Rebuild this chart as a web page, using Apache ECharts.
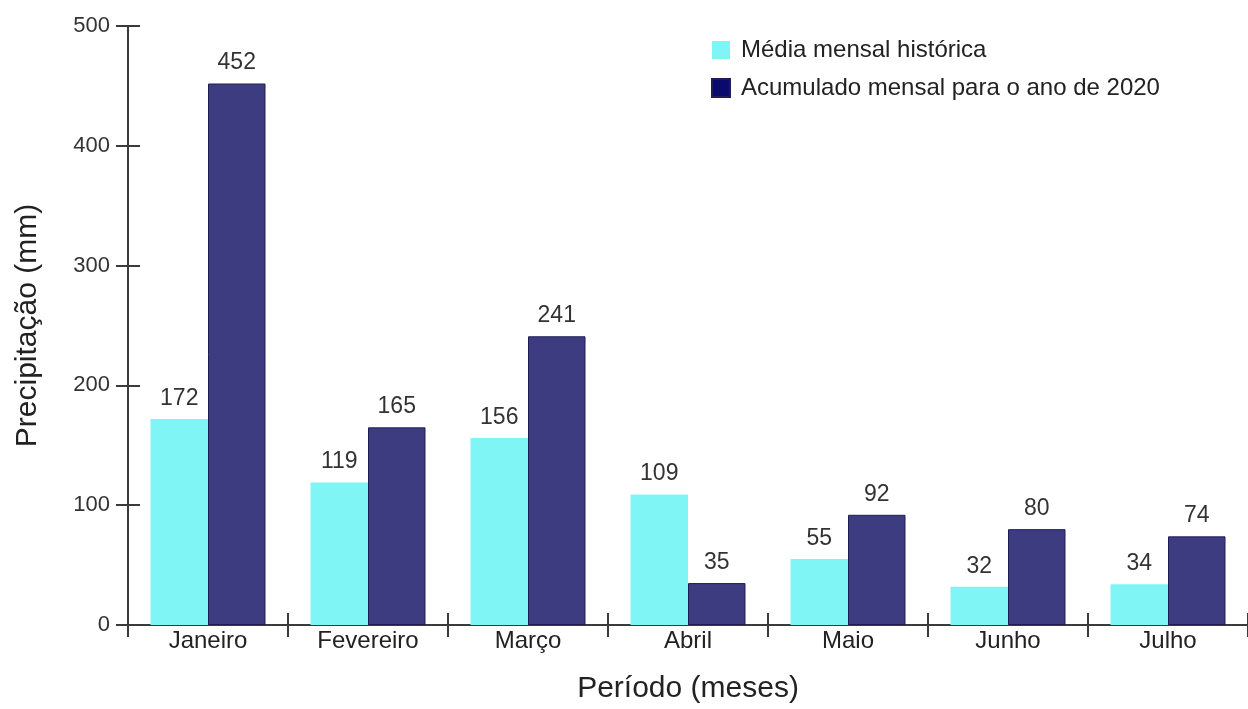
<!DOCTYPE html>
<html><head><meta charset="utf-8">
<script src="https://cdn.jsdelivr.net/npm/echarts@6/dist/echarts.min.js"></script>
<style>html,body{margin:0;padding:0;background:#fff}#c{width:1248px;height:709px}</style>
</head><body><div id="c"></div>
<script>
const categories = ['Janeiro','Fevereiro','Março','Abril','Maio','Junho','Julho'];
const mediaHistorica = [172,119,156,109,55,32,34];
const acumulado2020 = [452,165,241,35,92,80,74];
const seriesNames = ['Média mensal histórica','Acumulado mensal para o ano de 2020'];
const yTicks = {min:0,max:500,interval:100};

const FONT = 'Liberation Sans, Arial, sans-serif';
const chart = echarts.init(document.getElementById('c'));
const axisColor = '#3a3a3a';
chart.setOption({
  animation:false,
  backgroundColor:'#fff',
  textStyle:{fontFamily:FONT},
  grid:{left:128,right:0,top:26,bottom:83,containLabel:false},
  legend:{
    orient:'vertical', left:706, top:33, itemWidth:18, itemHeight:18, itemGap:14, icon:'rect',
    textStyle:{fontSize:24,color:'#222',fontFamily:FONT,padding:[0,0,0,6]},
    data:[
      {name:seriesNames[0],itemStyle:{color:'#80f5f5'}},
      {name:seriesNames[1],itemStyle:{color:'#0a0a6e'}}
    ]
  },
  xAxis:[{
    type:'category', data:categories, boundaryGap:true,
    name:'Período (meses)', nameLocation:'middle', nameGap:49,
    nameTextStyle:{fontSize:30,color:'#222',fontFamily:FONT},
    axisLine:{lineStyle:{color:axisColor,width:2}},
    axisTick:{show:true,length:12,lineStyle:{color:axisColor,width:2}},
    axisLabel:{fontSize:24,color:'#222',margin:4,fontFamily:FONT}
  },{
    type:'category', data:categories, boundaryGap:true, position:'bottom',
    axisLine:{show:false},
    axisTick:{show:true,inside:true,length:12,lineStyle:{color:axisColor,width:2}},
    axisLabel:{show:false}
  }],
  yAxis:[{
    type:'value', min:yTicks.min, max:yTicks.max, interval:yTicks.interval,
    name:'Precipitação (mm)', nameLocation:'middle', nameGap:85, nameRotate:90,
    nameTextStyle:{fontSize:30,color:'#222',fontFamily:FONT},
    axisLine:{show:true,lineStyle:{color:axisColor,width:2}},
    axisTick:{show:true,length:12,lineStyle:{color:axisColor,width:2}},
    axisLabel:{fontSize:22,color:'#333',margin:18,fontFamily:FONT},
    splitLine:{show:false}
  },{
    type:'value', min:yTicks.min, max:yTicks.max, interval:yTicks.interval, position:'left',
    axisLine:{show:false},
    axisTick:{show:true,inside:true,length:12,lineStyle:{color:axisColor,width:2}},
    axisLabel:{show:false}, splitLine:{show:false}
  }],
  series:[{
    name:seriesNames[0], type:'bar', data:mediaHistorica, barWidth:57.5, barGap:'0%',
    itemStyle:{color:'#80f5f5'},
    label:{show:true,position:'top',distance:9,fontSize:23,color:'#333',fontFamily:FONT}
  },{
    name:seriesNames[1], type:'bar', data:acumulado2020, barWidth:57.5, barGap:'0%',
    itemStyle:{color:'#3e3c80',borderColor:'#1e1e55',borderWidth:1},
    label:{show:true,position:'top',distance:9,fontSize:23,color:'#333',fontFamily:FONT}
  }]
});
</script></body></html>
